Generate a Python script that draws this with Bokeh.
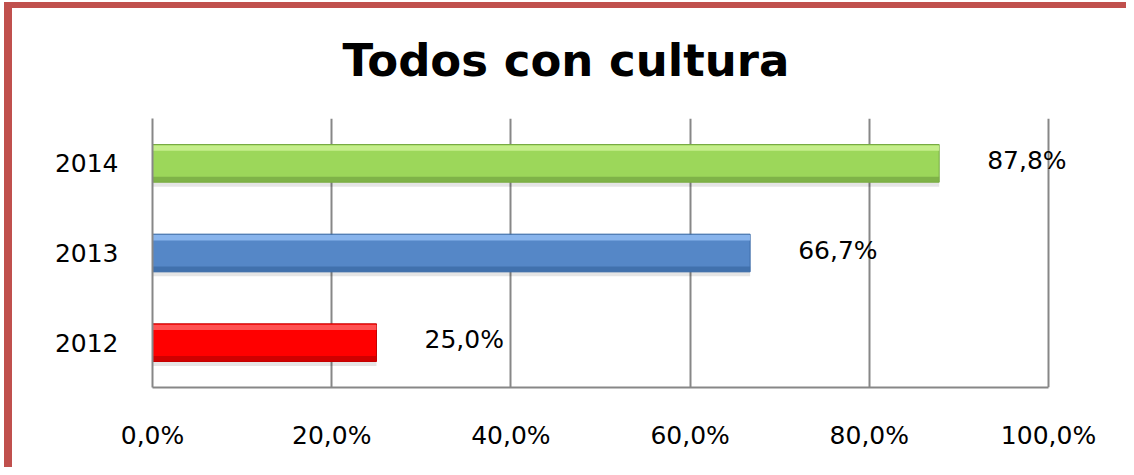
from bokeh.plotting import figure
from bokeh.models import FixedTicker, CustomJSTickFormatter, ColumnDataSource, LabelSet, Range1d
from bokeh.transform import dodge
from bokeh.embed import file_html
from bokeh.resources import INLINE
from bokeh.core.properties import value

# ---- data ----
years = ["2012", "2013", "2014"]
pct = [25.0, 66.7, 87.8]
labels = [f"{v:.1f}".replace(".", ",") + "%" for v in pct]
x_ticks = [0, 20, 40, 60, 80, 100]

# ---- styles ----
colors = ["#FF0000", "#5587C7", "#9CD75A"]
light = ["#FF6060", "#92BCF2", "#CDF294"]
dark = ["#C40000", "#3C6CA6", "#78AA44"]
FRAME = "#C0504D"
GRID = "#878787"

W, H = 1126, 467
LEFT, TOP, BOTTOM = 152, 118, 80
AXIS_PX = 896  # pixels for 0..100 %
x_max = 100.0 * (W - LEFT) / AXIS_PX  # frame runs to right canvas edge so labels are not clipped

src = ColumnDataSource(dict(years=years, pct=pct, labels=labels,
                            colors=colors, light=light, dark=dark))

p = figure(width=W, height=H, y_range=years, x_range=Range1d(0, x_max),
           output_backend="svg", toolbar_location=None,
           min_border_left=LEFT, min_border_right=0,
           min_border_top=TOP, min_border_bottom=BOTTOM,
           outline_line_color=None, background_fill_color="white",
           border_fill_color=None)
# red frame (left + top) drawn as CSS background of the plot element
p.styles = {
    "background": (f"linear-gradient({FRAME},{FRAME}) 4px 2px / 8px 100% no-repeat, "
                   f"linear-gradient({FRAME},{FRAME}) 4px 2px / 100% 6px no-repeat, white")
}

# title
p.title.text = "Todos con cultura"
p.title.text_font = "DejaVu Sans"
p.title.text_font_style = "bold"
p.title.text_font_size = "45px"
p.title.text_color = "black"
p.title.align = "left"
p.title.offset = 190
p.title.standoff = 63

# shadow
p.hbar(y=dodge("years", -0.235, range=p.y_range), left=0, right="pct", height=0.05,
       fill_color="#000000", fill_alpha=0.10, line_color=None, source=src)
# main bars
p.hbar(y="years", left=0, right="pct", height=0.42, fill_color="colors",
       line_color="dark", line_width=1, source=src)
# highlight
p.hbar(y=dodge("years", 0.17, range=p.y_range), left=0, right="pct", height=0.06,
       fill_color="light", fill_alpha=0.85, line_color=None, source=src)
# bottom shade
p.hbar(y=dodge("years", -0.18, range=p.y_range), left=0, right="pct", height=0.06,
       fill_color="dark", fill_alpha=0.8, line_color=None, source=src)

# value labels
p.add_layout(LabelSet(x="pct", y="years", text="labels", x_offset=48, y_offset=3, source=src,
                      text_align="left", text_baseline="middle",
                      text_font=value("DejaVu Sans"), text_font_size=value("25px"),
                      text_color="black"))

# axes
p.xaxis.ticker = FixedTicker(ticks=x_ticks)
p.xaxis.formatter = CustomJSTickFormatter(code="return tick.toFixed(1).replace('.', ',') + '%';")
p.xaxis.bounds = (0, 100)
for ax in (p.xaxis[0], p.yaxis[0]):
    ax.major_label_text_font = "DejaVu Sans"
    ax.major_label_text_font_size = "25px"
    ax.major_label_text_color = "black"
    ax.major_tick_out = 0
    ax.major_tick_in = 0
    ax.minor_tick_out = 0
    ax.minor_tick_in = 0
    ax.axis_line_color = GRID
    ax.axis_line_width = 2
p.xaxis.major_label_standoff = 33
p.yaxis.major_label_standoff = 34

p.xgrid.grid_line_color = GRID
p.xgrid.grid_line_width = 2
p.xgrid.bounds = (0, 100)
p.ygrid.grid_line_color = None

open("out.html", "w").write(file_html(p, INLINE))
